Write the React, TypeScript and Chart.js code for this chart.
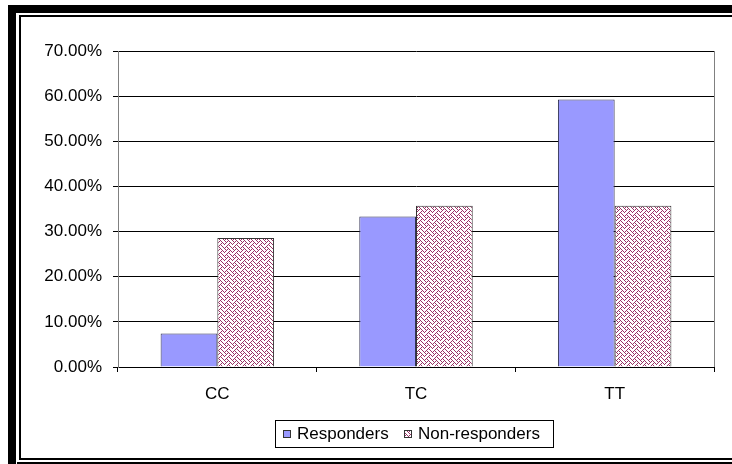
import React, { useEffect, useRef } from 'react';
import { Chart, registerables } from 'chart.js';

Chart.register(...registerables);

// Genotype groups and the share of each response group carrying them (%)
const categories = ['CC', 'TC', 'TT'];
const responders = [7.41, 33.33, 59.26];
const nonResponders = [28.57, 35.71, 35.71];
const seriesNames = ['Responders', 'Non-responders'];

// y axis range and step (%)
const yMin = 0;
const yMax = 70;
const yStep = 10;

const FONT = '"Liberation Sans", Arial, sans-serif';
const RESP_FILL = '#9999FF';
const WEAVE_INK = '#993366';
// 8x8 weave hatch, one byte per row
const WEAVE_BITS = [0x88, 0x54, 0x22, 0x45, 0x88, 0x14, 0x22, 0x51];

function makeWeave(): CanvasPattern | string {
  const c = document.createElement('canvas');
  c.width = 8;
  c.height = 8;
  const g = c.getContext('2d');
  if (!g) return WEAVE_INK;
  g.fillStyle = '#ffffff';
  g.fillRect(0, 0, 8, 8);
  g.fillStyle = WEAVE_INK;
  WEAVE_BITS.forEach((row, y) => {
    for (let x = 0; x < 8; x++) {
      if (row & (0x80 >> x)) g.fillRect(x, y, 1, 1);
    }
  });
  return g.createPattern(c, 'repeat') || WEAVE_INK;
}

export default function App() {
  const canvasRef = useRef<HTMLCanvasElement | null>(null);

  useEffect(() => {
    const canvas = canvasRef.current;
    if (!canvas) return;
    const weave = makeWeave();

    // frame around the figure, plot-area right edge and the boxed legend
    const decorations = {
      id: 'decorations',
      afterDraw(chart: any) {
        const ctx = chart.ctx as CanvasRenderingContext2D;
        const a = chart.chartArea;
        ctx.save();

        // right edge of the plot area
        ctx.strokeStyle = '#808080';
        ctx.lineWidth = 1;
        ctx.beginPath();
        ctx.moveTo(Math.round(a.right) + 0.5, a.top);
        ctx.lineTo(Math.round(a.right) + 0.5, a.bottom);
        ctx.stroke();

        // frame
        ctx.fillStyle = '#000000';
        ctx.fillRect(8, 5, 724, 8);
        ctx.fillRect(8, 5, 8, 459);
        ctx.fillRect(19, 15, 713, 2);
        ctx.fillRect(19, 15, 2, 445);
        ctx.fillRect(19, 458, 713, 2);
        ctx.fillRect(17, 462, 715, 2);

        // legend
        ctx.strokeStyle = '#000000';
        ctx.lineWidth = 1;
        ctx.strokeRect(275.5, 420.5, 278, 27);
        const cy = 434;
        const items = [
          { x: 283, fill: RESP_FILL as any, label: seriesNames[0] },
          { x: 404, fill: weave as any, label: seriesNames[1] },
        ];
        ctx.font = `17px ${FONT}`;
        ctx.textBaseline = 'middle';
        ctx.textAlign = 'left';
        items.forEach((it) => {
          ctx.fillStyle = it.fill;
          ctx.fillRect(it.x, cy - 4, 8, 8);
          ctx.strokeStyle = '#333333';
          ctx.strokeRect(it.x + 0.5, cy - 4 + 0.5, 7, 7);
          ctx.fillStyle = '#000000';
          ctx.fillText(it.label, it.x + 14, cy);
        });
        ctx.restore();
      },
    };

    const chart = new Chart(canvas, {
      type: 'bar',
      data: {
        labels: categories,
        datasets: [
          {
            label: seriesNames[0],
            data: responders,
            backgroundColor: RESP_FILL,
            borderColor: '#333355',
            borderWidth: 1,
            barPercentage: 1,
            categoryPercentage: 0.571,
          },
          {
            label: seriesNames[1],
            data: nonResponders,
            backgroundColor: weave as any,
            borderColor: '#333333',
            borderWidth: 1,
            barPercentage: 1,
            categoryPercentage: 0.571,
          },
        ],
      },
      options: {
        responsive: false,
        animation: false,
        devicePixelRatio: 1,
        layout: { padding: { top: 51, left: 0, right: 18, bottom: 0 } },
        plugins: {
          legend: { display: false },
          tooltip: { enabled: false },
        },
        scales: {
          x: {
            grid: {
              display: true,
              drawOnChartArea: false,
              drawTicks: true,
              tickLength: 5,
              color: '#000000',
              offset: true,
            },
            border: { display: true, color: '#000000' },
            ticks: {
              color: '#000000',
              font: { family: FONT, size: 17 },
              padding: 12,
              maxRotation: 0,
            },
            afterFit: (scale: any) => {
              scale.height = 97;
            },
          },
          y: {
            min: yMin,
            max: yMax,
            grid: {
              color: '#000000',
              tickColor: '#000000',
              tickLength: 5,
            },
            border: { display: true, color: '#808080' },
            ticks: {
              stepSize: yStep,
              color: '#000000',
              font: { family: FONT, size: 17 },
              padding: 11,
              callback: (v: any) => `${Number(v).toFixed(2)}%`,
            },
            afterFit: (scale: any) => {
              scale.width = 118;
            },
          },
        },
      },
      plugins: [decorations],
    });

    return () => chart.destroy();
  }, []);

  return (
    <div style={{ position: 'absolute', left: 0, top: 0, width: 732, height: 464, background: '#ffffff' }}>
      <canvas ref={canvasRef} width={732} height={464} style={{ display: 'block' }} />
    </div>
  );
}
